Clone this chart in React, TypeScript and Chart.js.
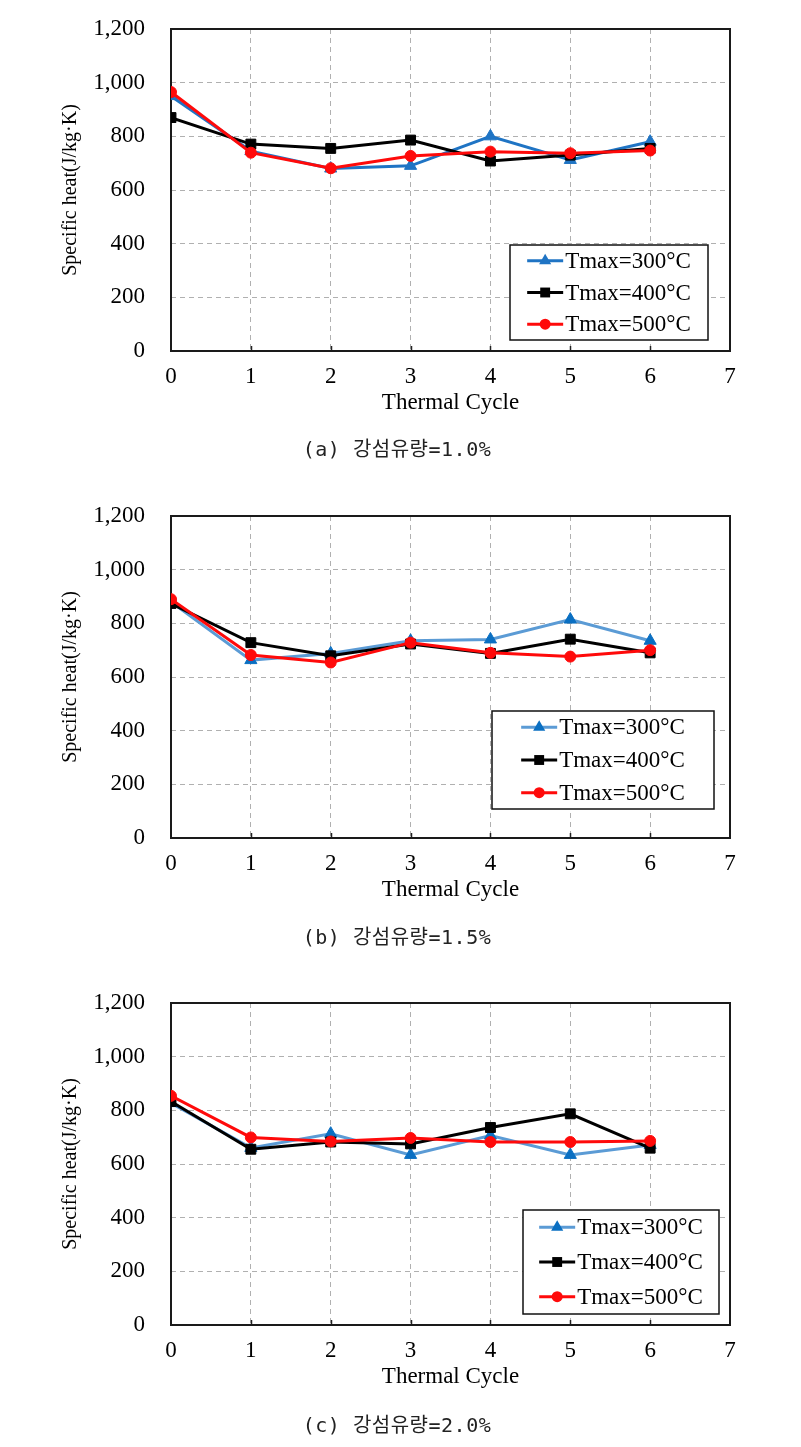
import React, { useEffect, useRef } from 'react';
import { Chart, registerables } from 'chart.js';

Chart.register(...registerables);

// ---- data ----
const cycles = [0, 1, 2, 3, 4, 5, 6];
const seriesLabels = ['Tmax=300°C', 'Tmax=400°C', 'Tmax=500°C'];
const yAxisTitle = 'Specific heat(J/kg·K)';
const xAxisTitle = 'Thermal Cycle';
const xMin = 0;
const xMax = 7;
const yMin = 0;
const yMax = 1200;
const yStep = 200;

// (a) fiber 1.0%
const a300 = [950, 745, 680, 690, 800, 712, 780];
const a400 = [870, 771, 755, 786, 708, 730, 755];
const a500 = [965, 739, 681, 727, 743, 737, 747];
// (b) fiber 1.5%
const b300 = [880, 663, 688, 735, 740, 814, 735];
const b400 = [874, 728, 679, 723, 688, 741, 690];
const b500 = [890, 682, 654, 728, 690, 676, 700];
// (c) fiber 2.0%
const c300 = [827, 660, 713, 634, 706, 634, 671];
const c400 = [833, 655, 682, 675, 736, 787, 659];
const c500 = [854, 699, 684, 697, 682, 682, 686];

const captions = ['(a) 강섬유량=1.0%', '(b) 강섬유량=1.5%', '(c) 강섬유량=2.0%'];

const SERIF = "'Liberation Serif', 'Times New Roman', serif";
const W = 801;

type Box = { x1: number; y1: number; x2: number; y2: number };

function drawMarker(ctx: CanvasRenderingContext2D, style: string, x: number, y: number, r: number) {
  ctx.beginPath();
  if (style === 'triangle') {
    ctx.moveTo(x, y - r);
    ctx.lineTo(x - r * 0.866, y + r * 0.5);
    ctx.lineTo(x + r * 0.866, y + r * 0.5);
    ctx.closePath();
  } else if (style === 'rect') {
    const s = r * Math.SQRT1_2;
    ctx.rect(x - s, y - s, 2 * s, 2 * s);
  } else {
    ctx.arc(x, y, r, 0, Math.PI * 2);
  }
  ctx.fill();
}

const framePlugin = {
  id: 'frame',
  beforeDatasetsDraw(chart: any) {
    const { ctx, chartArea } = chart;
    const xs = chart.scales.x;
    ctx.save();
    ctx.strokeStyle = '#222';
    ctx.lineWidth = 1.5;
    for (let v = xMin + 1; v < xMax; v++) {
      const px = Math.round(xs.getPixelForValue(v)) + 0.5;
      ctx.beginPath();
      ctx.moveTo(px, chartArea.bottom);
      ctx.lineTo(px, chartArea.bottom - 5);
      ctx.stroke();
    }
    ctx.lineWidth = 2;
    ctx.strokeStyle = '#1a1a1a';
    ctx.strokeRect(chartArea.left, chartArea.top, chartArea.right - chartArea.left, chartArea.bottom - chartArea.top);
    ctx.restore();
  },
};

const makeLegendPlugin = (box: Box) => ({
  id: 'boxLegend',
  afterDatasetsDraw(chart: any) {
    const ctx: CanvasRenderingContext2D = chart.ctx;
    const { x1, y1, x2, y2 } = box;
    ctx.save();
    ctx.fillStyle = '#ffffff';
    ctx.fillRect(x1, y1, x2 - x1, y2 - y1);
    ctx.lineWidth = 1.5;
    ctx.strokeStyle = '#111';
    ctx.strokeRect(x1, y1, x2 - x1, y2 - y1);
    ctx.font = `23px ${SERIF}`;
    const dss = chart.data.datasets;
    const tw = Math.max(...dss.map((d: any) => ctx.measureText(d.label).width));
    const sampleW = 36;
    const gap = 2;
    const contentW = sampleW + gap + tw;
    const sx = x1 + (x2 - x1 - contentW) / 2;
    dss.forEach((ds: any, i: number) => {
      const y = y1 + ((y2 - y1) * (2 * i + 1)) / 6;
      ctx.strokeStyle = ds.borderColor;
      ctx.lineWidth = 3;
      ctx.beginPath();
      ctx.moveTo(sx, y);
      ctx.lineTo(sx + sampleW, y);
      ctx.stroke();
      ctx.fillStyle = ds.pointBackgroundColor;
      drawMarker(ctx, ds.pointStyle, sx + sampleW / 2, y, ds.pointRadius);
      ctx.fillStyle = '#000';
      ctx.textBaseline = 'middle';
      ctx.textAlign = 'left';
      ctx.fillText(ds.label, sx + sampleW + gap, y + 1);
    });
    ctx.restore();
  },
});

type PanelProps = {
  top: number;
  height: number;
  plotTop: number;
  plotBottom: number;
  s300: number[];
  s400: number[];
  s500: number[];
  blueLine: string;
  blueMarker: string;
  legend: Box;
  caption: string;
  captionY: number;
};

function Panel(p: PanelProps) {
  const ref = useRef<HTMLCanvasElement>(null);
  useEffect(() => {
    const canvas = ref.current;
    if (!canvas) return;
    const xScaleH = 70;
    const padLeft = 55;
    const yScaleW = 171 - padLeft;
    const padRight = W - 730;
    const padBottom = p.height - p.plotBottom - xScaleH;
    const mk = (label: string, vals: number[], line: string, marker: string, style: string, r: number, order: number) => ({
      label,
      data: cycles.map((c, i) => ({ x: c, y: vals[i] })),
      borderColor: line,
      backgroundColor: marker,
      pointBackgroundColor: marker,
      pointBorderColor: marker,
      pointBorderWidth: 1,
      pointStyle: style,
      pointRadius: r,
      borderWidth: 3,
      tension: 0,
      fill: false,
      order,
    });
    const chart = new Chart(canvas, {
      type: 'line',
      data: {
        datasets: [
          mk(seriesLabels[0], p.s300, p.blueLine, p.blueMarker, 'triangle', 7, 2),
          mk(seriesLabels[1], p.s400, '#000000', '#000000', 'rect', 7, 1),
          mk(seriesLabels[2], p.s500, '#ff0a0a', '#ff0a0a', 'circle', 5.5, 0),
        ] as any,
      },
      options: {
        animation: false,
        responsive: false,
        devicePixelRatio: 1,
        layout: { padding: { left: padLeft, right: padRight, top: p.plotTop, bottom: padBottom } },
        plugins: { legend: { display: false }, tooltip: { enabled: false } },
        scales: {
          x: {
            type: 'linear',
            min: xMin,
            max: xMax,
            afterFit: (s: any) => {
              s.height = xScaleH;
              s.paddingLeft = 0;
              s.paddingRight = 0;
              s.paddingTop = 0;
              s.paddingBottom = 0;
            },
            ticks: { stepSize: 1, autoSkip: false, padding: 12, color: '#000', font: { family: SERIF, size: 23 } },
            grid: { color: '#b0b0b0', lineWidth: 1, drawTicks: false },
            border: { display: false, dash: [5, 4] },
            title: { display: true, text: xAxisTitle, color: '#000', font: { family: SERIF, size: 23 }, padding: { top: 0, bottom: 4 } },
          },
          y: {
            type: 'linear',
            min: yMin,
            max: yMax,
            afterFit: (s: any) => {
              s.width = yScaleW;
              s.paddingLeft = 0;
              s.paddingRight = 0;
              s.paddingTop = 0;
              s.paddingBottom = 0;
            },
            ticks: {
              stepSize: yStep,
              padding: 26,
              color: '#000',
              font: { family: SERIF, size: 23 },
              callback: (v: any) => Number(v).toLocaleString('en-US'),
            },
            grid: { color: '#b0b0b0', lineWidth: 1, drawTicks: false },
            border: { display: false, dash: [5, 4] },
            title: { display: true, text: yAxisTitle, color: '#000', font: { family: SERIF, size: 20 }, padding: { top: 4, bottom: 4 } },
          },
        },
      } as any,
      plugins: [framePlugin, makeLegendPlugin(p.legend)],
    });
    return () => chart.destroy();
  }, []);
  return (
    <div style={{ position: 'absolute', left: 0, top: p.top, width: W, height: p.height }}>
      <canvas ref={ref} width={W} height={p.height} style={{ display: 'block', width: W, height: p.height }} />
      <div
        style={{
          position: 'absolute',
          left: 397 - 200,
          width: 400,
          top: p.captionY - p.top - 13,
          lineHeight: '26px',
          textAlign: 'center',
          whiteSpace: 'pre',
          fontFamily: "'DejaVu Sans Mono', 'Noto Sans CJK KR', monospace",
          fontSize: 20,
          letterSpacing: '0.5px',
          color: '#222',
        }}
      >
        {p.caption}
      </div>
    </div>
  );
}

export default function App() {
  return (
    <div style={{ position: 'absolute', left: 0, top: 0, width: W, height: 1447, background: '#fff' }}>
      <Panel top={0} height={487} plotTop={29} plotBottom={351} s300={a300} s400={a400} s500={a500}
        blueLine="#1f74c4" blueMarker="#1f74c4" legend={{ x1: 510, y1: 245, x2: 708, y2: 340 }}
        caption={captions[0]} captionY={449} />
      <Panel top={487} height={488} plotTop={29} plotBottom={351} s300={b300} s400={b400} s500={b500}
        blueLine="#5b9bd5" blueMarker="#0a6fc2" legend={{ x1: 492, y1: 224, x2: 714, y2: 322 }}
        caption={captions[1]} captionY={937} />
      <Panel top={975} height={472} plotTop={28} plotBottom={350} s300={c300} s400={c400} s500={c500}
        blueLine="#5b9bd5" blueMarker="#0a6fc2" legend={{ x1: 523, y1: 235, x2: 719, y2: 339 }}
        caption={captions[2]} captionY={1425} />
    </div>
  );
}
